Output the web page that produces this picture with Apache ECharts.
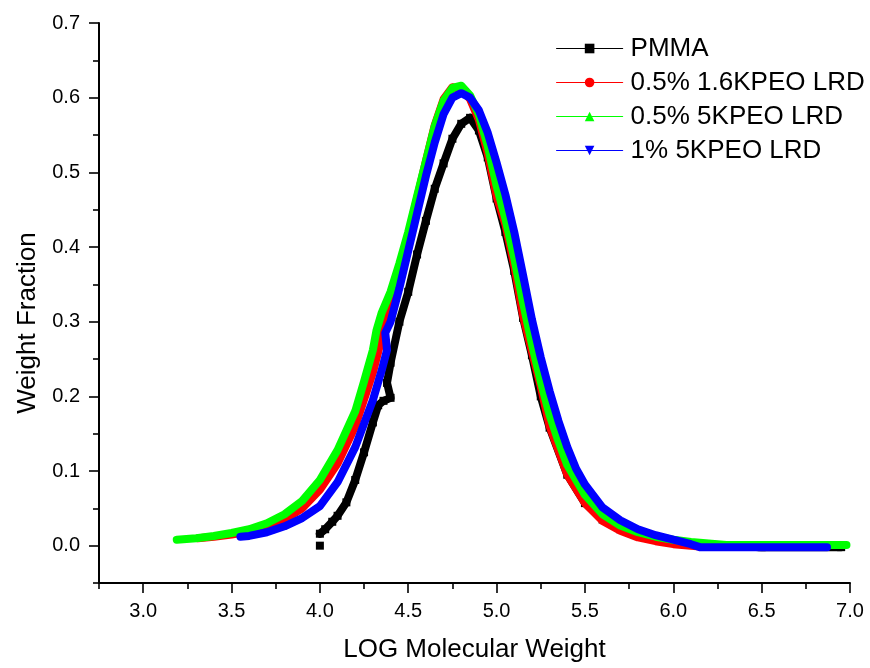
<!DOCTYPE html>
<html>
<head>
<meta charset="utf-8">
<script src="https://cdn.jsdelivr.net/npm/echarts@6/dist/echarts.min.js"></script>
<style>
html,body{margin:0;padding:0;background:#fff;}
#chart{width:870px;height:668px;}
</style>
</head>
<body>
<div id="chart"></div>
<script>
// ---- data ----
const seriesNames = ['PMMA', '0.5% 1.6KPEO LRD', '0.5% 5KPEO LRD', '1% 5KPEO LRD'];

const pmmaX = [4.00, 4.00, 4.00, 4.03, 4.07, 4.10, 4.15, 4.20, 4.25, 4.30, 4.33, 4.36, 4.40, 4.38, 4.40, 4.45, 4.50, 4.55, 4.60, 4.65, 4.70, 4.75, 4.80, 4.85, 4.90, 4.95, 5.00, 5.05, 5.10, 5.15, 5.20, 5.25, 5.30, 5.40, 5.50, 5.60, 5.70, 5.80, 5.90, 6.00, 6.20, 6.50, 6.95];
const pmmaY = [0.000, null, 0.016, 0.022, 0.032, 0.040, 0.058, 0.088, 0.125, 0.165, 0.188, 0.194, 0.198, 0.218, 0.245, 0.300, 0.340, 0.390, 0.435, 0.478, 0.512, 0.545, 0.565, 0.573, 0.556, 0.520, 0.465, 0.420, 0.368, 0.305, 0.255, 0.200, 0.158, 0.095, 0.057, 0.035, 0.022, 0.014, 0.008, 0.004, 0.001, -0.002, -0.002];

const redX = [3.31, 3.40, 3.50, 3.60, 3.70, 3.80, 3.90, 4.00, 4.10, 4.20, 4.30, 4.35, 4.40, 4.45, 4.50, 4.55, 4.60, 4.65, 4.70, 4.75, 4.80, 4.85, 4.90, 4.95, 5.00, 5.05, 5.10, 5.15, 5.20, 5.25, 5.30, 5.40, 5.50, 5.60, 5.70, 5.80, 5.90, 6.00, 6.10, 6.15];
const redY = [0.010, 0.012, 0.015, 0.019, 0.025, 0.035, 0.050, 0.075, 0.110, 0.160, 0.232, 0.278, 0.322, 0.368, 0.415, 0.465, 0.515, 0.563, 0.598, 0.614, 0.612, 0.598, 0.570, 0.525, 0.468, 0.430, 0.375, 0.308, 0.260, 0.213, 0.160, 0.095, 0.057, 0.033, 0.020, 0.011, 0.006, 0.002, 0.000, -0.001];

const greenX = [3.19, 3.30, 3.40, 3.50, 3.60, 3.70, 3.80, 3.90, 4.00, 4.10, 4.20, 4.25, 4.30, 4.32, 4.35, 4.40, 4.45, 4.50, 4.55, 4.60, 4.65, 4.70, 4.75, 4.80, 4.85, 4.90, 4.95, 5.00, 5.05, 5.10, 5.15, 5.20, 5.25, 5.30, 5.35, 5.40, 5.50, 5.60, 5.70, 5.80, 5.90, 6.00, 6.10, 6.20, 6.30, 6.50, 6.98];
const greenY = [0.008, 0.010, 0.013, 0.017, 0.022, 0.030, 0.042, 0.060, 0.088, 0.128, 0.180, 0.220, 0.262, 0.288, 0.312, 0.340, 0.378, 0.420, 0.468, 0.515, 0.562, 0.596, 0.613, 0.616, 0.603, 0.577, 0.535, 0.482, 0.438, 0.385, 0.325, 0.270, 0.220, 0.175, 0.140, 0.108, 0.068, 0.042, 0.027, 0.018, 0.012, 0.008, 0.005, 0.003, 0.001, 0.001, 0.001];

const blueX = [3.55, 3.60, 3.70, 3.80, 3.90, 4.00, 4.10, 4.20, 4.30, 4.35, 4.38, 4.37, 4.40, 4.45, 4.50, 4.55, 4.60, 4.65, 4.70, 4.75, 4.80, 4.85, 4.90, 4.95, 5.00, 5.05, 5.10, 5.15, 5.20, 5.25, 5.30, 5.35, 5.40, 5.45, 5.50, 5.60, 5.70, 5.80, 5.90, 6.00, 6.10, 6.15, 6.50, 6.87];
const blueY = [0.012, 0.013, 0.018, 0.026, 0.037, 0.053, 0.085, 0.132, 0.195, 0.235, 0.262, 0.285, 0.300, 0.345, 0.395, 0.445, 0.495, 0.540, 0.578, 0.600, 0.606, 0.600, 0.583, 0.553, 0.513, 0.470, 0.420, 0.362, 0.303, 0.252, 0.207, 0.167, 0.132, 0.103, 0.082, 0.051, 0.034, 0.022, 0.014, 0.008, 0.002, -0.002, -0.002, -0.002];

const xMajorTicks = [3.0, 3.5, 4.0, 4.5, 5.0, 5.5, 6.0, 6.5, 7.0];
const xMinorTicks = [2.75, 3.25, 3.75, 4.25, 4.75, 5.25, 5.75, 6.25, 6.75];
const yMajorTicks = [0.0, 0.1, 0.2, 0.3, 0.4, 0.5, 0.6, 0.7];
const yMinorTicks = [-0.05, 0.05, 0.15, 0.25, 0.35, 0.45, 0.55, 0.65];

// ---- build ----
function pairs(xs, ys) {
  return xs.map((x, i) => ys[i] === null ? [x, '-'] : [x, ys[i]]);
}
const colors = ['#000000', '#ff0000', '#00ff00', '#0000ff'];
const symbols = ['rect', 'circle', 'triangle', 'triangle'];
const rotates = [0, 0, 0, 180];
const datasets = [pairs(pmmaX, pmmaY), pairs(redX, redY), pairs(greenX, greenY), pairs(blueX, blueY)];

const FONT = 'Liberation Sans, Arial, sans-serif';
const chart = echarts.init(document.getElementById('chart'), null, {renderer: 'canvas'});

const axisCommon = {
  type: 'value',
  splitLine: {show: false},
};

chart.setOption({
  backgroundColor: '#ffffff',
  animation: false,
  grid: {left: 99, right: 20, top: 23, bottom: 82, containLabel: false},
  legend: {
    orient: 'vertical',
    left: 551,
    top: 30,
    itemWidth: 66,
    itemHeight: 12,
    itemGap: 7,
    data: seriesNames,
    textStyle: {fontFamily: FONT, fontSize: 26, lineHeight: 27, color: '#000', padding: [0, 0, 0, 3]},
    lineStyle: {width: 1.2}
  },
  xAxis: [
    Object.assign({}, axisCommon, {
      min: 2.75, max: 7.0,
      name: 'LOG Molecular Weight',
      nameLocation: 'middle',
      nameGap: 54,
      nameTextStyle: {fontFamily: FONT, fontSize: 26, color: '#000'},
      axisLine: {show: true, onZero: false, lineStyle: {color: '#000', width: 2}},
      axisTick: {show: true, customValues: xMajorTicks, length: 10, lineStyle: {color: '#000', width: 1.6}},
      axisLabel: {customValues: xMajorTicks, margin: 18, fontFamily: FONT, fontSize: 20, color: '#000',
                  formatter: v => v.toFixed(1)}
    }),
    Object.assign({}, axisCommon, {
      min: 2.75, max: 7.0,
      position: 'bottom',
      axisLine: {show: false, onZero: false},
      axisTick: {show: true, customValues: xMinorTicks, length: 6, lineStyle: {color: '#000', width: 1.6}},
      axisLabel: {show: false}
    })
  ],
  yAxis: [
    Object.assign({}, axisCommon, {
      min: -0.05, max: 0.7,
      name: 'Weight Fraction',
      nameLocation: 'middle',
      nameGap: 54,
      nameTextStyle: {fontFamily: FONT, fontSize: 26, color: '#000', padding: [0, 40, 0, 0]},
      axisLine: {show: true, onZero: false, lineStyle: {color: '#000', width: 2}},
      axisTick: {show: true, customValues: yMajorTicks, length: 10, lineStyle: {color: '#000', width: 1.6}},
      axisLabel: {customValues: yMajorTicks, margin: 19, fontFamily: FONT, fontSize: 20, color: '#000',
                  formatter: v => v.toFixed(1)}
    }),
    Object.assign({}, axisCommon, {
      min: -0.05, max: 0.7,
      position: 'left',
      axisLine: {show: false, onZero: false},
      axisTick: {show: true, customValues: yMinorTicks, length: 6, lineStyle: {color: '#000', width: 1.6}},
      axisLabel: {show: false}
    })
  ],
  series: seriesNames.map((name, i) => ({
    name: name,
    type: 'line',
    xAxisIndex: 0,
    yAxisIndex: 0,
    data: datasets[i],
    symbol: symbols[i],
    symbolRotate: rotates[i],
    symbolSize: i === 0 ? 8 : 7,
    showSymbol: i === 0,
    showAllSymbol: true,
    connectNulls: false,
    color: colors[i],
    itemStyle: {color: colors[i]},
    lineStyle: {color: colors[i], width: 8, cap: 'round', join: 'round'},
    emphasis: {disabled: true},
    z: 2 + i
  }))
});
</script>
</body>
</html>
